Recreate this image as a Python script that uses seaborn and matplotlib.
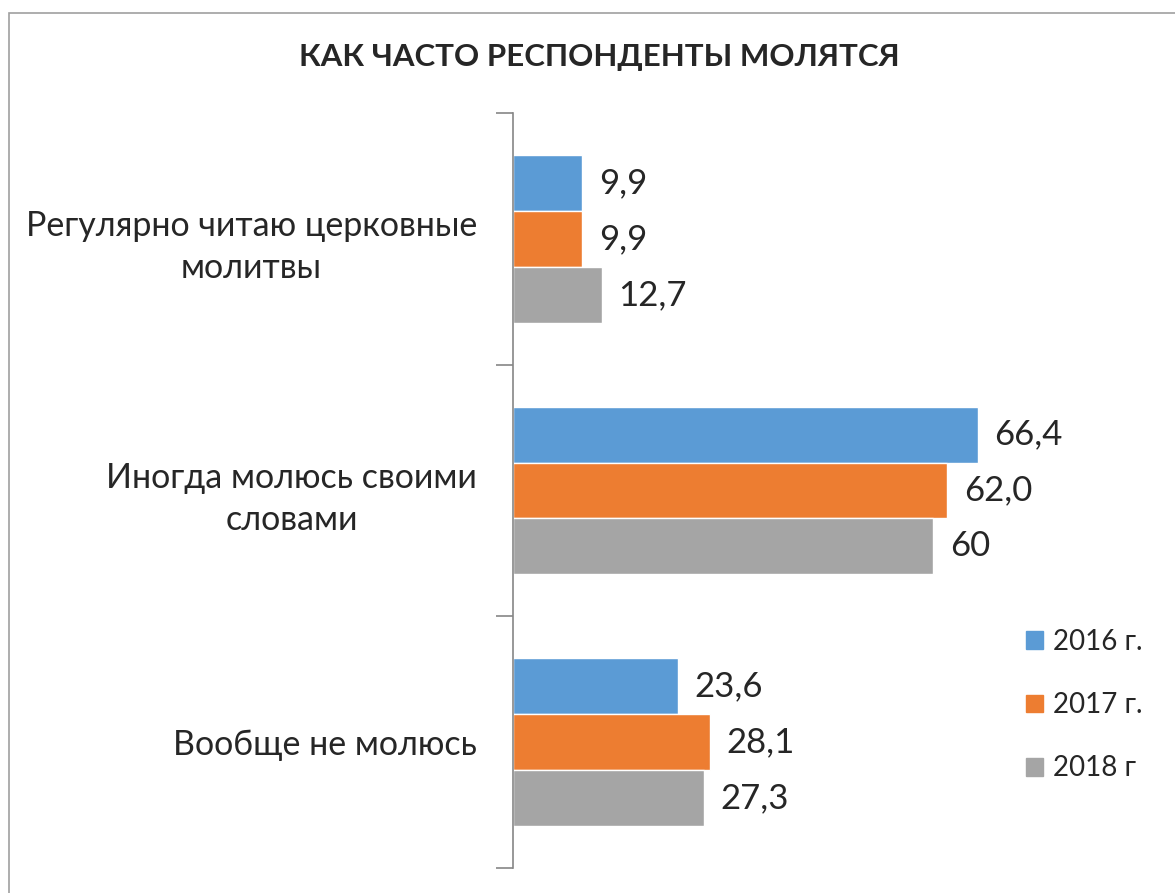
import pandas as pd
import matplotlib.pyplot as plt
import matplotlib.patches as mpatches
import seaborn as sns

# chart data
categories = ['Регулярно читаю церковные\nмолитвы', 'Иногда молюсь своими\nсловами', 'Вообще не молюсь']
years = ['2016 г.', '2017 г.', '2018 г']
values_2016 = [9.9, 66.4, 23.6]
values_2017 = [9.9, 62.0, 28.1]
values_2018 = [12.7, 60, 27.3]
value_labels_2016 = ['9,9', '66,4', '23,6']
value_labels_2017 = ['9,9', '62,0', '28,1']
value_labels_2018 = ['12,7', '60', '27,3']
colors = ['#5B9BD5', '#ED7D31', '#A5A5A5']

df = pd.DataFrame({
    'category': categories * 3,
    'year': [years[0]] * 3 + [years[1]] * 3 + [years[2]] * 3,
    'value': values_2016 + values_2017 + values_2018,
})
labels = [value_labels_2016, value_labels_2017, value_labels_2018]

sns.set_style('white')
plt.rcParams['font.family'] = ['Lato', 'DejaVu Sans']

fig = plt.figure(figsize=(11.75, 8.93), dpi=100)
ax = fig.add_axes([513 / 1175, 25 / 893, 560 / 1175, 755 / 893])

sns.barplot(data=df, y='category', x='value', hue='year', orient='h',
            palette=colors, width=2 / 3, gap=0, saturation=1,
            order=categories, hue_order=years, ax=ax, legend=False)

for cont, labs in zip(ax.containers, labels):
    ax.bar_label(cont, labels=labs, padding=12, fontsize=25)

ax.set_xlim(0, 80)
ax.set_ylim(2.5, -0.5)
ax.set_xlabel('')
ax.set_ylabel('')
ax.set_xticks([])
# group boundaries as major ticks, category names as minor ticks
ax.set_yticks([-0.5, 0.5, 1.5, 2.5], minor=False)
ax.set_yticklabels([])
ax.set_yticks([0, 1, 2], minor=True)
ax.set_yticklabels(categories, minor=True, fontsize=24.5, multialignment='center', linespacing=1.4)
ax.tick_params(axis='y', which='major', length=12, width=1.2, color='#868686', direction='out', left=True)
ax.tick_params(axis='y', which='minor', length=0, pad=26)
for s in ['top', 'right', 'bottom']:
    ax.spines[s].set_visible(False)
ax.spines['left'].set_color('#868686')
ax.spines['left'].set_linewidth(1.2)

fig.text(599 / 1175, 1 - 57 / 893, 'КАК ЧАСТО РЕСПОНДЕНТЫ МОЛЯТСЯ', ha='center', va='center',
         fontsize=22.5, fontweight='bold')

handles = [mpatches.Patch(color=c, label=y) for c, y in zip(colors, years)]
fig.legend(handles=handles, loc='upper left', bbox_to_anchor=(1026 / 1175, 1 - 629 / 893),
           frameon=False, fontsize=20, handlelength=0.61, handleheight=0.61,
           handletextpad=0.36, labelspacing=1.34, borderpad=0, borderaxespad=0)

# outer chart border
fig.patches.append(mpatches.Rectangle((9 / 1175, -0.1), 1.2, 1 - 13 / 893 + 0.1,
                                      transform=fig.transFigure, fill=False,
                                      edgecolor='#A0A0A0', linewidth=1.2))

fig.savefig('out.png', dpi=100)
